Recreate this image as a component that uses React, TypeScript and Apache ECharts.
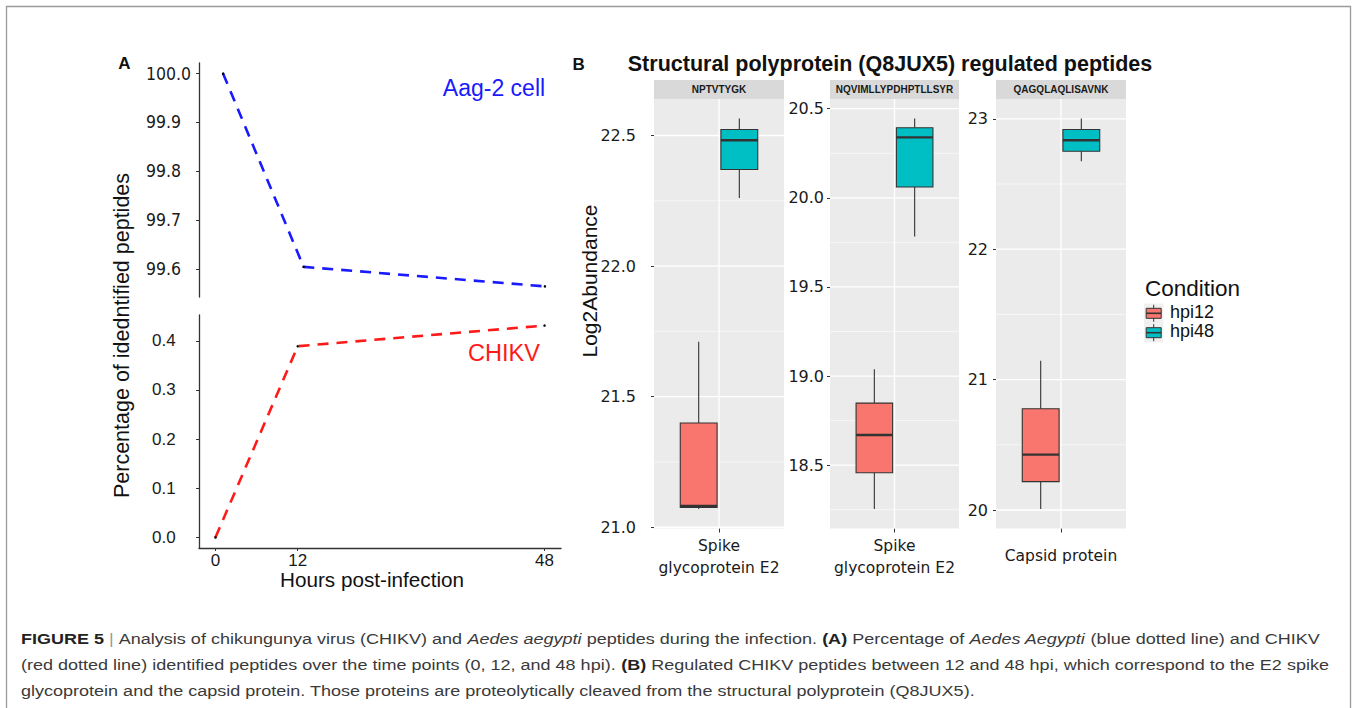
import React, { useEffect, useRef } from 'react';
import * as echarts from 'echarts';

// ---------- Panel A data ----------
const hours = [0, 12, 48];
const aag2Pct = [100.0, 99.604, 99.564];
const chikvPct = [0.0, 0.389, 0.431];
const hourTicks = [0, 12, 48];
const aag2Ticks = [99.6, 99.7, 99.8, 99.9, 100.0];
const chikvTicks = [0.0, 0.1, 0.2, 0.3, 0.4];

// ---------- Panel B data ----------
const conditions = ['hpi12', 'hpi48'];
const peptides = ['NPTVTYGK', 'NQVIMLLYPDHPTLLSYR', 'QAGQLAQLISAVNK'];
const proteins = ['Spike\nglycoprotein E2', 'Spike\nglycoprotein E2', 'Capsid protein'];
// five-number summaries: [lower whisker, Q1, median, Q3, upper whisker]
const nptvtygkHpi12 = [21.07, 21.076, 21.082, 21.399, 21.71];
const nptvtygkHpi48 = [22.261, 22.37, 22.482, 22.523, 22.565];
const nqvimHpi12 = [18.254, 18.457, 18.669, 18.848, 19.038];
const nqvimHpi48 = [19.783, 20.061, 20.339, 20.393, 20.445];
const qagqHpi12 = [20.008, 20.218, 20.425, 20.777, 21.144];
const qagqHpi48 = [22.674, 22.751, 22.835, 22.918, 23.002];
const nptvtygkTicks = [21.0, 21.5, 22.0, 22.5];
const nqvimTicks = [18.5, 19.0, 19.5, 20.0, 20.5];
const qagqTicks = [20, 21, 22, 23];

const facetSummaries = [
  [nptvtygkHpi12, nptvtygkHpi48],
  [nqvimHpi12, nqvimHpi48],
  [qagqHpi12, qagqHpi48],
];
const facetTicks = [nptvtygkTicks, nqvimTicks, qagqTicks];
const conditionColors = ['#F8766D', '#00BFC4'];

// ---------- layout / style ----------
const SANS = '"Liberation Sans", Arial, Helvetica, sans-serif';
const NARROW = '"Liberation Sans Narrow", "Arial Narrow", "DejaVu Sans Condensed", "Liberation Sans", sans-serif';
const WIDE = '"DejaVu Sans", Verdana, sans-serif';
const FACETS = [
  { left: 654, width: 130, yLabelMargin: 18, xLabelMargin: 6, decimals: 1 },
  { left: 830, width: 129, yLabelMargin: 6, xLabelMargin: 6, decimals: 1 },
  { left: 996, width: 130, yLabelMargin: 8, xLabelMargin: 16, decimals: 0 },
];
const FACET_TOP = 99;
const FACET_H = 429.5;
const DODGE = 0.1875;
const BOX_HALF = 0.17;
const X_EXT = [-0.6, 0.6];
const CAPTION_FONT = 14.5;
const CAPTION_STRETCH = 1.243;

function expand(vals: number[], f = 0.05): [number, number] {
  const lo = Math.min(...vals);
  const hi = Math.max(...vals);
  const r = hi - lo;
  return [lo - r * f, hi + r * f];
}

function minorsOf(ticks: number[], ext: [number, number]) {
  const step = ticks[1] - ticks[0];
  const out: number[] = [];
  for (let i = -1; i < ticks.length; i++) {
    const v = ticks[0] + step * (i + 0.5);
    if (v > ext[0] && v < ext[1]) out.push(v);
  }
  return out;
}

function textEl(text: string, x: number, y: number, style: any, extra: any = {}) {
  return {
    type: 'text',
    x,
    y,
    silent: true,
    ...extra,
    style: {
      text,
      x: 0,
      y: 0,
      align: 'center',
      verticalAlign: 'middle',
      textAlign: 'center',
      textVerticalAlign: 'middle',
      ...style,
    },
  };
}

function buildOption() {
  const xA = expand(hours);
  const yTop = expand(aag2Pct);
  const yBot = expand(chikvPct);

  const grids: any[] = [
    { left: 199, top: 63, width: 362, height: 234 },
    { left: 199, top: 315, width: 362, height: 233 },
    ...FACETS.map((f) => ({
      left: f.left,
      top: FACET_TOP,
      width: f.width,
      height: FACET_H,
      show: true,
      backgroundColor: '#EBEBEB',
      borderWidth: 0,
    })),
  ];

  const axisLineA = { show: true, onZero: false, lineStyle: { color: '#333', width: 1.3 } };

  const xAxes: any[] = [
    { gridIndex: 0, type: 'value', min: -3.6, max: xA[1], show: false, axisLine: { onZero: false } },
    {
      gridIndex: 1,
      type: 'value',
      min: xA[0],
      max: xA[1],
      axisLine: axisLineA,
      axisTick: { show: true, customValues: hourTicks, length: 3, lineStyle: { color: '#333' } },
      axisLabel: { customValues: hourTicks, margin: 4, fontSize: 17, fontFamily: SANS, color: '#1a1a1a' },
      splitLine: { show: false },
    },
  ];
  const yAxes: any[] = [
    {
      gridIndex: 0,
      type: 'value',
      min: yTop[0],
      max: yTop[1],
      axisLine: axisLineA,
      axisTick: { show: true, customValues: aag2Ticks, length: 3, lineStyle: { color: '#333' } },
      axisLabel: {
        customValues: aag2Ticks,
        formatter: (v: number) => v.toFixed(1),
        align: 'left',
        margin: 53,
        fontSize: 17.5,
        fontFamily: NARROW,
        color: '#1a1a1a',
      },
      splitLine: { show: false },
    },
    {
      gridIndex: 1,
      type: 'value',
      min: yBot[0],
      max: yBot[1],
      axisLine: axisLineA,
      axisTick: { show: true, customValues: chikvTicks, length: 3, lineStyle: { color: '#333' } },
      axisLabel: {
        customValues: chikvTicks,
        formatter: (v: number) => v.toFixed(1),
        align: 'left',
        margin: 47,
        fontSize: 17,
        fontFamily: SANS,
        color: '#1a1a1a',
      },
      splitLine: { show: false },
    },
  ];

  const series: any[] = [
    {
      type: 'line',
      name: 'Aag-2 cell',
      xAxisIndex: 0,
      yAxisIndex: 0,
      data: hours.map((h, i) => [h, aag2Pct[i]]),
      lineStyle: { color: '#1a1aff', width: 2.6, type: [11, 8] },
      symbol: 'circle',
      symbolSize: 2.5,
      itemStyle: { color: '#000' },
      z: 3,
    },
    {
      type: 'line',
      name: 'CHIKV',
      xAxisIndex: 1,
      yAxisIndex: 1,
      data: hours.map((h, i) => [h, chikvPct[i]]),
      lineStyle: { color: '#ff1a1a', width: 2.6, type: [11, 8] },
      symbol: 'circle',
      symbolSize: 2.5,
      itemStyle: { color: '#000' },
      z: 3,
    },
  ];

  const graphics: any[] = [];

  FACETS.forEach((f, i) => {
    const ax = 2 + i;
    const sums = facetSummaries[i];
    const ticks = facetTicks[i];
    const ext = expand(sums.flat());
    const minors = minorsOf(ticks, ext);

    xAxes.push({
      gridIndex: ax,
      type: 'value',
      min: X_EXT[0],
      max: X_EXT[1],
      axisLine: { show: false, onZero: false },
      axisTick: { show: true, customValues: [0], length: 4, lineStyle: { color: '#333' } },
      axisLabel: {
        customValues: [0],
        formatter: () => proteins[i],
        margin: f.xLabelMargin,
        fontSize: 15.5,
        lineHeight: 22,
        fontFamily: WIDE,
        color: '#1a1a1a',
      },
      splitLine: { show: false },
    });
    yAxes.push({
      gridIndex: ax,
      type: 'value',
      min: ext[0],
      max: ext[1],
      axisLine: { show: false, onZero: false },
      axisTick: { show: true, customValues: ticks, length: 3, lineStyle: { color: '#333' } },
      axisLabel: {
        customValues: ticks,
        formatter: (v: number) => v.toFixed(f.decimals),
        margin: f.yLabelMargin,
        fontSize: 16,
        fontFamily: WIDE,
        color: '#1a1a1a',
      },
      splitLine: { show: false },
    });

    // panel grid lines (white), drawn through the axes' scales
    const gridRows: number[][] = [
      ...minors.map((v) => [0, v, 0]),
      ...ticks.map((v) => [0, v, 1]),
      [1, 0, 1],
    ];
    series.push({
      type: 'custom',
      name: 'grid-' + i,
      xAxisIndex: ax,
      yAxisIndex: ax,
      silent: true,
      z: 1,
      data: gridRows,
      renderItem: (params: any, api: any) => {
        const orient = api.value(0);
        const v = api.value(1);
        const major = api.value(2);
        const p1 = orient === 0 ? api.coord([X_EXT[0], v]) : api.coord([v, ext[0]]);
        const p2 = orient === 0 ? api.coord([X_EXT[1], v]) : api.coord([v, ext[1]]);
        return {
          type: 'line',
          shape: { x1: p1[0], y1: p1[1], x2: p2[0], y2: p2[1] },
          style: { stroke: '#ffffff', lineWidth: major ? 1.3 : 0.6 },
        };
      },
    });

    sums.forEach((s, c) => {
      const offset = c === 0 ? -DODGE : DODGE;
      const color = conditionColors[c];
      series.push({
        type: 'custom',
        name: conditions[c],
        xAxisIndex: ax,
        yAxisIndex: ax,
        z: 3,
        data: [[offset, ...s]],
        renderItem: (params: any, api: any) => {
          const x = api.value(0);
          const lo = api.value(1);
          const q1 = api.value(2);
          const med = api.value(3);
          const q3 = api.value(4);
          const hi = api.value(5);
          const cx = api.coord([x, med])[0];
          const hw = api.size([BOX_HALF, 0])[0];
          const yLo = api.coord([x, lo])[1];
          const yQ1 = api.coord([x, q1])[1];
          const yMed = api.coord([x, med])[1];
          const yQ3 = api.coord([x, q3])[1];
          const yHi = api.coord([x, hi])[1];
          const stroke = '#333333';
          return {
            type: 'group',
            children: [
              { type: 'line', shape: { x1: cx, y1: yHi, x2: cx, y2: yQ3 }, style: { stroke, lineWidth: 1.1 } },
              { type: 'line', shape: { x1: cx, y1: yQ1, x2: cx, y2: yLo }, style: { stroke, lineWidth: 1.1 } },
              {
                type: 'rect',
                shape: { x: cx - hw, y: yQ3, width: 2 * hw, height: yQ1 - yQ3 },
                style: { fill: color, stroke, lineWidth: 1.1 },
              },
              { type: 'line', shape: { x1: cx - hw, y1: yMed, x2: cx + hw, y2: yMed }, style: { stroke, lineWidth: 2.4 } },
            ],
          };
        },
      });
    });

    // facet strip
    graphics.push({
      type: 'rect',
      shape: { x: f.left, y: 80, width: f.width, height: FACET_TOP - 80 },
      style: { fill: '#D9D9D9' },
      silent: true,
    });
    graphics.push(
      textEl(peptides[i], f.left + f.width / 2, 89.5, {
        font: 'bold 10px "Liberation Sans", Arial, sans-serif',
        fontSize: 10,
        fontWeight: 'bold',
        fontFamily: SANS,
        fill: '#1a1a1a',
      })
    );
  });

  // outer figure frame
  graphics.push({
    type: 'rect',
    shape: { x: 6.5, y: 6.5, width: 1344, height: 800 },
    style: { fill: 'none', stroke: '#9a9a9a', lineWidth: 1.3 },
    silent: true,
  });

  // Panel labels and titles
  graphics.push(textEl('A', 124.5, 63.5, { fontSize: 17, fontWeight: 'bold', fontFamily: SANS, fill: '#111' }));
  graphics.push(textEl('B', 578.7, 64, { fontSize: 17, fontWeight: 'bold', fontFamily: SANS, fill: '#111' }));
  graphics.push(
    textEl('Structural polyprotein (Q8JUX5) regulated peptides', 890, 63.5, {
      fontSize: 21.5,
      fontWeight: 'bold',
      fontFamily: SANS,
      fill: '#111',
    })
  );
  graphics.push(textEl('Aag-2 cell', 494, 88, { fontSize: 23, fontFamily: SANS, fill: '#1a1aff' }));
  graphics.push(textEl('CHIKV', 504, 353, { fontSize: 23.5, fontFamily: SANS, fill: '#ff1a1a' }));
  graphics.push(textEl('Hours post-infection', 372, 579.5, { fontSize: 20.7, fontFamily: SANS, fill: '#111' }));
  graphics.push(
    textEl('Percentage of idedntified peptides', 122, 335.5, { fontSize: 21.5, fontFamily: SANS, fill: '#111' }, { rotation: Math.PI / 2 })
  );
  graphics.push(textEl('Log2Abundance', 589, 281, { fontSize: 21, fontFamily: SANS, fill: '#111' }, { rotation: Math.PI / 2 }));

  // Legend
  graphics.push(
    textEl('Condition', 1145, 288, { fontSize: 22.5, fontFamily: SANS, fill: '#111', align: 'left', textAlign: 'left' })
  );
  conditions.forEach((c, k) => {
    const cy = 313.3 + k * 19.4;
    graphics.push({
      type: 'rect',
      shape: { x: 1144, y: cy - 9.7, width: 19.4, height: 19.4 },
      style: { fill: '#F0F0F0' },
      silent: true,
    });
    graphics.push({
      type: 'line',
      shape: { x1: 1153.7, y1: cy - 8.5, x2: 1153.7, y2: cy + 8.5 },
      style: { stroke: '#333', lineWidth: 1 },
      silent: true,
    });
    graphics.push({
      type: 'rect',
      shape: { x: 1146.2, y: cy - 5, width: 15, height: 10 },
      style: { fill: conditionColors[k], stroke: '#333', lineWidth: 1 },
      silent: true,
    });
    graphics.push({
      type: 'line',
      shape: { x1: 1146.2, y1: cy, x2: 1161.2, y2: cy },
      style: { stroke: '#333', lineWidth: 1.6 },
      silent: true,
    });
    graphics.push(
      textEl(c, 1170, cy - 1.3, { fontSize: 18, fontFamily: SANS, fill: '#111', align: 'left', textAlign: 'left' })
    );
  });

  // Caption
  const capFont = (w: string, s: string) => `${s} ${w} ${CAPTION_FONT}px "Liberation Sans", Arial, sans-serif`;
  const capRich = {
    b: { font: capFont('bold', 'normal'), fontSize: CAPTION_FONT, fontWeight: 'bold', fill: '#222', color: '#222' },
    i: { font: capFont('normal', 'italic'), fontSize: CAPTION_FONT, fontStyle: 'italic', fill: '#3a3a3a', color: '#3a3a3a' },
    s: { font: capFont('normal', 'normal'), fontSize: CAPTION_FONT, fill: '#999', color: '#999' },
    n: { font: capFont('normal', 'normal'), fontSize: CAPTION_FONT, fill: '#3a3a3a', color: '#3a3a3a' },
  };
  const captionLines = [
    '{b|FIGURE 5} {s||} {n|Analysis of chikungunya virus (CHIKV) and }{i|Aedes aegypti}{n| peptides during the infection. }{b|(A)}{n| Percentage of }{i|Aedes Aegypti}{n| (blue dotted line) and CHIKV}',
    '{n|(red dotted line) identified peptides over the time points (0, 12, and 48 hpi). }{b|(B)}{n| Regulated CHIKV peptides between 12 and 48 hpi, which correspond to the E2 spike}',
    '{n|glycoprotein and the capsid protein. Those proteins are proteolytically cleaved from the structural polyprotein (Q8JUX5).}',
  ];
  captionLines.forEach((line, k) => {
    graphics.push(
      textEl(
        line,
        21,
        638.5 + k * 26,
        {
          font: capFont('normal', 'normal'),
          fontSize: CAPTION_FONT,
          fontFamily: SANS,
          fill: '#3a3a3a',
          align: 'left',
          textAlign: 'left',
          rich: capRich,
        },
        { scaleX: CAPTION_STRETCH, scaleY: 1 }
      )
    );
  });

  return {
    animation: false,
    backgroundColor: '#ffffff',
    grid: grids,
    xAxis: xAxes,
    yAxis: yAxes,
    series,
    graphic: { elements: graphics },
  };
}

export default function App() {
  const ref = useRef<HTMLDivElement>(null);
  useEffect(() => {
    if (!ref.current) return;
    const chart = echarts.init(ref.current, null, { renderer: 'svg' });
    chart.setOption(buildOption() as any);
    return () => chart.dispose();
  }, []);
  return (
    <div
      ref={ref}
      style={{ position: 'fixed', left: 0, top: 0, width: 1352, height: 708, background: '#fff' }}
    />
  );
}
